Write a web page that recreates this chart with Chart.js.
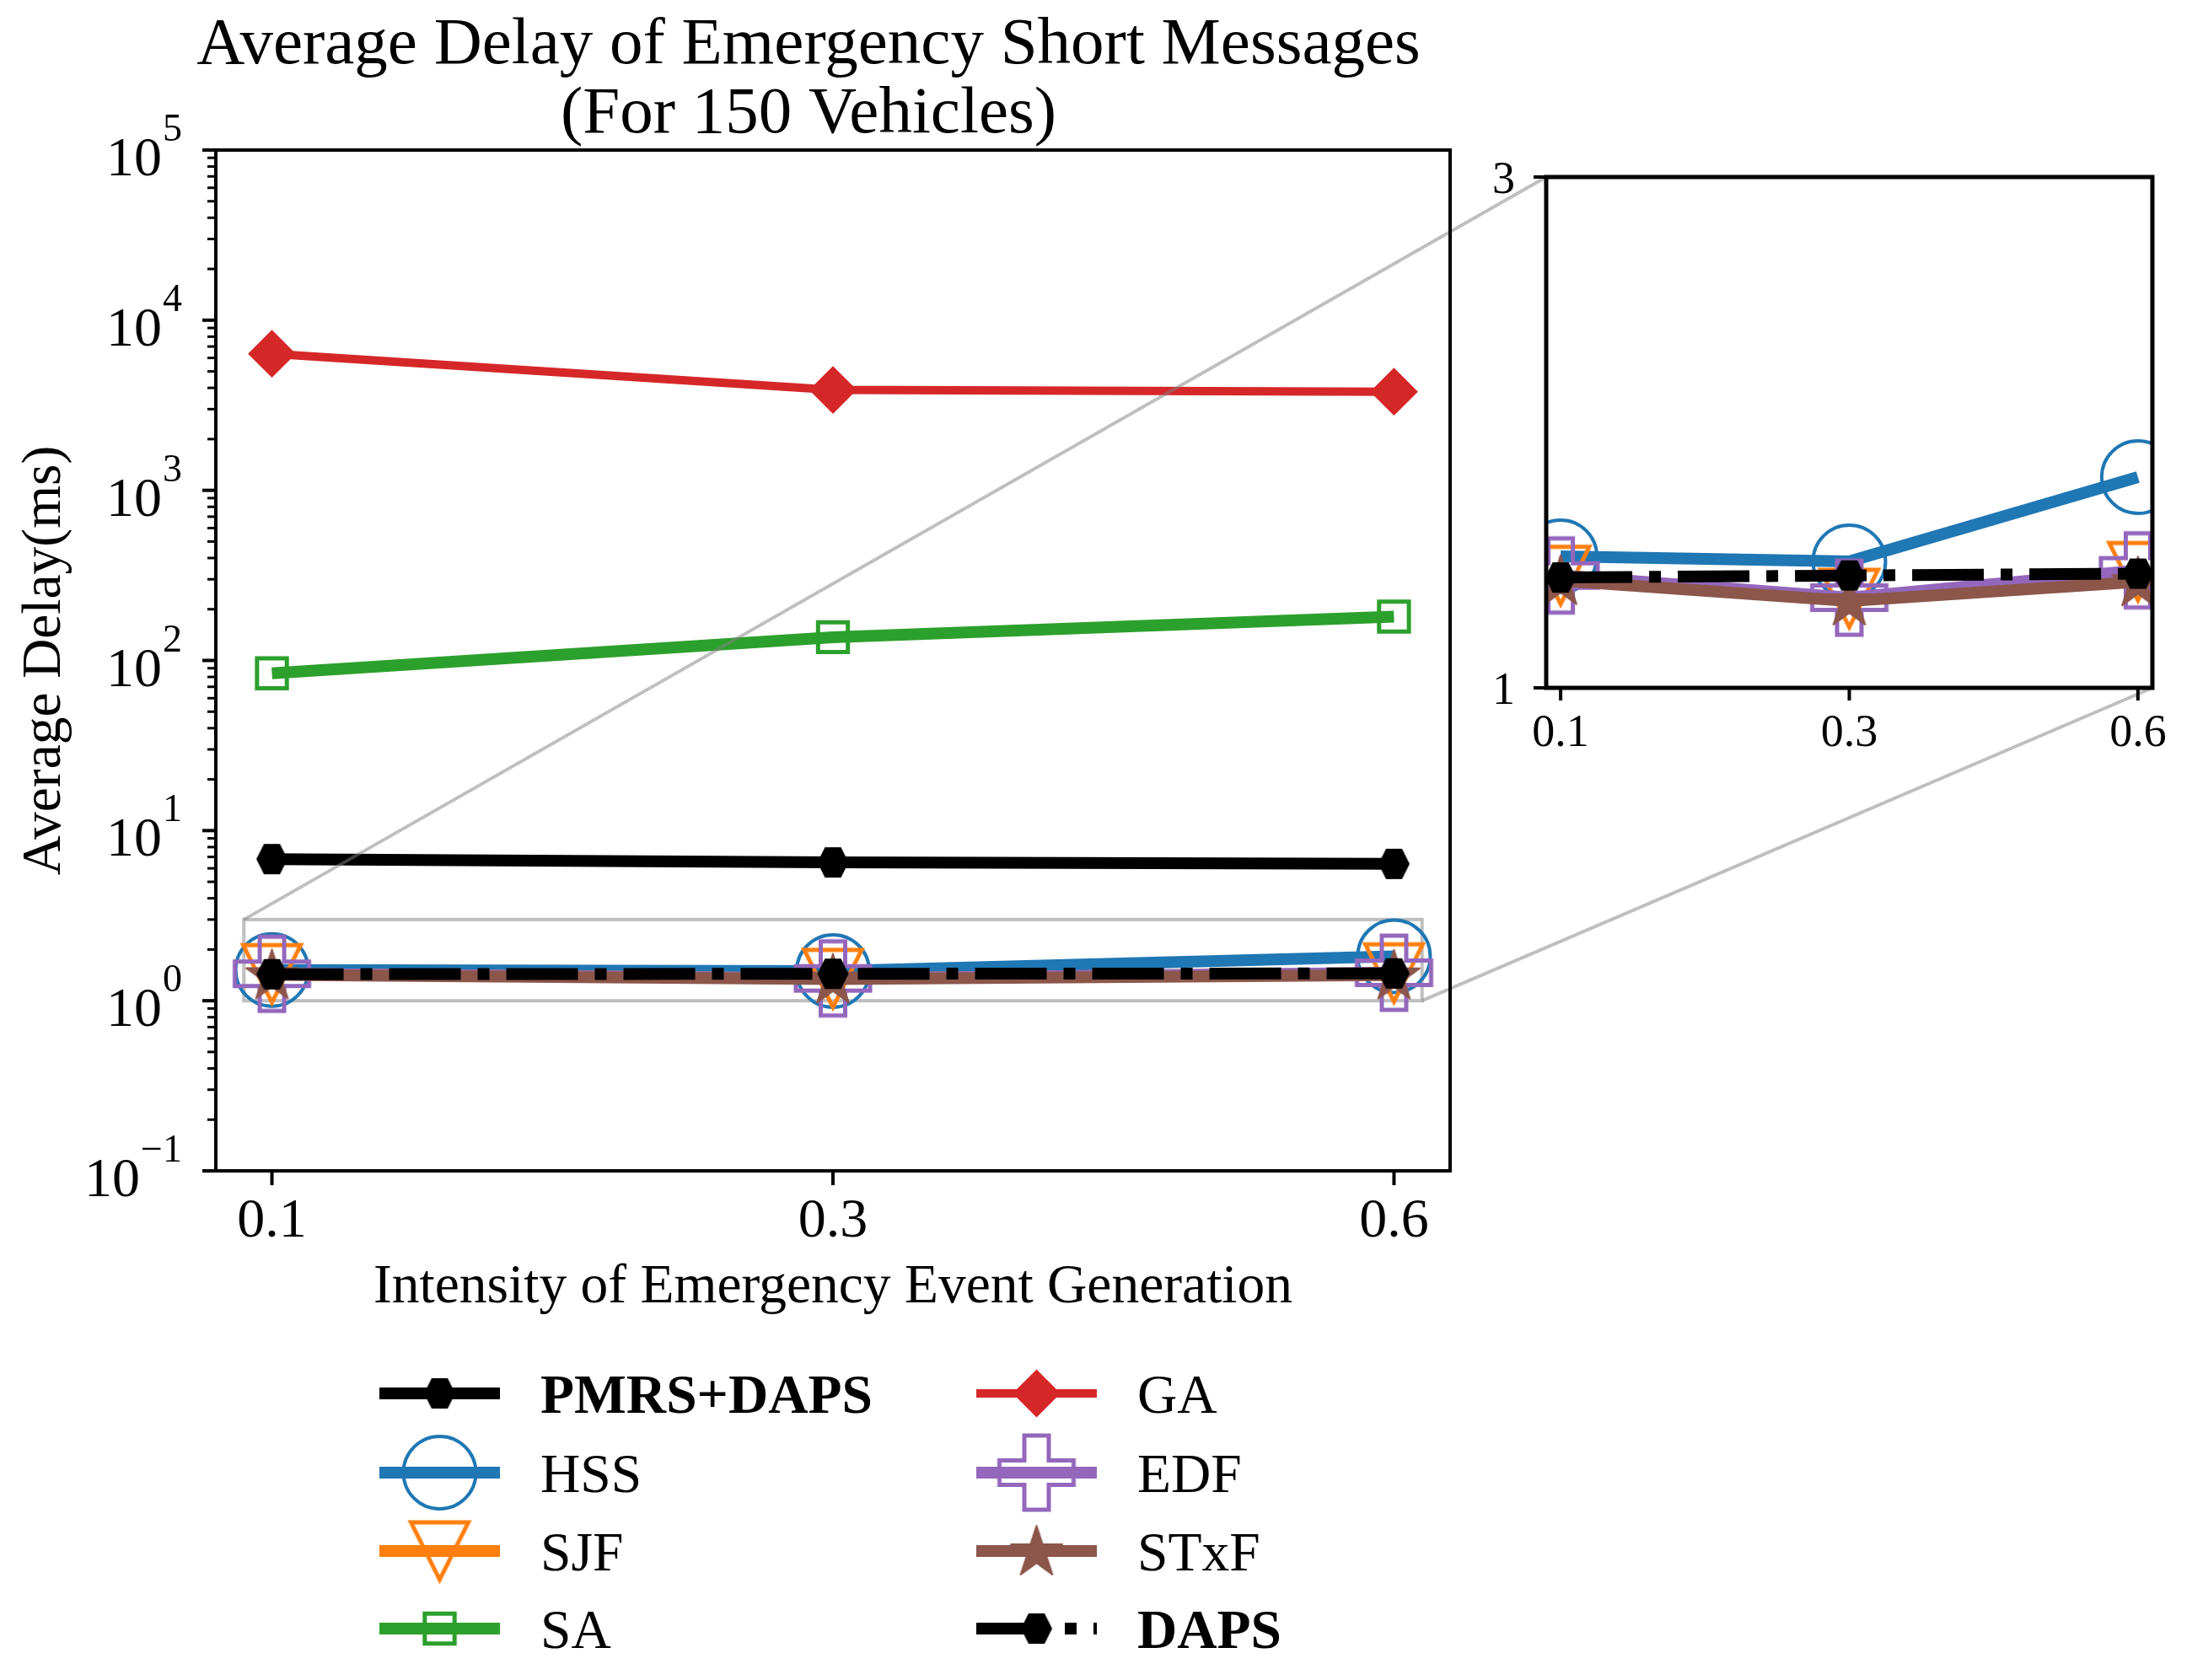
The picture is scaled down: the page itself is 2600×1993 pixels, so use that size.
<!DOCTYPE html>
<html>
<head>
<meta charset="utf-8">
<script src="https://cdn.jsdelivr.net/npm/chart.js@4.4.1/dist/chart.umd.min.js"></script>
<style>
  html, body { margin: 0; padding: 0; background: #fff; }
  #wrap { position: relative; width: 2600px; height: 1993px; overflow: hidden; }
  #main { position: absolute; left: 0; top: 0; }
  #inset { position: absolute; left: 1700px; top: 100px; }
</style>
</head>
<body>
<div id="wrap">
  <canvas id="main" width="2600" height="1993"></canvas>
  <canvas id="inset" width="900" height="850"></canvas>
</div>
<script>
const intensities = ['0.1', '0.3', '0.6']
const pmrsDaps = [6.8, 6.5, 6.37]
const hss = [1.515, 1.495, 1.825]
const sjf = [1.44, 1.35, 1.455]
const sa = [84, 137, 181]
const ga = [6350, 3890, 3800]
const edf = [1.44, 1.353, 1.46]
const stxf = [1.42, 1.34, 1.415]
const daps = [1.432, 1.44, 1.447]
const seriesNames = ['PMRS+DAPS', 'HSS', 'SJF', 'SA', 'GA', 'EDF', 'STxF', 'DAPS']
const seriesValues = [pmrsDaps, hss, sjf, sa, ga, edf, stxf, daps]
const decadeExponents = [-1, 0, 1, 2, 3, 4, 5]
const insetYTicks = [1, 3]

const FONT = "'Liberation Serif', 'Times New Roman', serif"
const GRAY = 'rgba(128, 128, 128, 0.5)'

function markerCanvas(size, paint) {
  const c = document.createElement('canvas')
  c.width = size
  c.height = size
  const g = c.getContext('2d')
  g.translate(size / 2, size / 2)
  paint(g)
  return c
}

const hexMarker = markerCanvas(44, (g) => {
  g.beginPath()
  g.moveTo(-18.5, 0)
  g.lineTo(-9.5, -18)
  g.lineTo(9.5, -18)
  g.lineTo(18.5, 0)
  g.lineTo(9.5, 18)
  g.lineTo(-9.5, 18)
  g.closePath()
  g.fillStyle = '#000000'
  g.fill()
})

const triMarker = markerCanvas(90, (g) => {
  g.beginPath()
  g.moveTo(-34, -34)
  g.lineTo(34, -34)
  g.lineTo(0, 34)
  g.closePath()
  g.lineJoin = 'miter'
  g.lineWidth = 5
  g.strokeStyle = '#ff7f0e'
  g.stroke()
})

const plusMarker = markerCanvas(100, (g) => {
  const a = 14.5
  const l = 44
  g.beginPath()
  g.moveTo(-a, -l)
  g.lineTo(a, -l)
  g.lineTo(a, -a)
  g.lineTo(l, -a)
  g.lineTo(l, a)
  g.lineTo(a, a)
  g.lineTo(a, l)
  g.lineTo(-a, l)
  g.lineTo(-a, a)
  g.lineTo(-l, a)
  g.lineTo(-l, -a)
  g.lineTo(-a, -a)
  g.closePath()
  g.lineJoin = 'miter'
  g.lineWidth = 5
  g.strokeStyle = '#9467bd'
  g.stroke()
})

const starMarker = markerCanvas(80, (g) => {
  const R = 32
  const r = R * 0.381966
  g.beginPath()
  for (let k = 0; k < 10; k++) {
    const rad = k % 2 === 0 ? R : r
    const ang = -Math.PI / 2 + (k * Math.PI) / 5
    g.lineTo(rad * Math.cos(ang), rad * Math.sin(ang) + 2)
  }
  g.closePath()
  g.fillStyle = '#8c564b'
  g.fill()
  g.lineJoin = 'round'
  g.lineWidth = 2
  g.strokeStyle = '#8c564b'
  g.stroke()
})

const seriesStyles = [
  { color: '#000000', width: 14, dash: [], pointStyle: hexMarker, radius: 19, border: 0, bg: '#000000' },
  { color: '#1f77b4', width: 14, dash: [], pointStyle: 'circle', radius: 43, border: 4, bg: 'rgba(0,0,0,0)' },
  { color: '#ff7f0e', width: 14, dash: [], pointStyle: triMarker, radius: 36, border: 0, bg: 'rgba(0,0,0,0)' },
  { color: '#2ca02c', width: 14, dash: [], pointStyle: 'rect', radius: 25, border: 5, bg: 'rgba(0,0,0,0)' },
  { color: '#d62728', width: 10, dash: [], pointStyle: 'rectRot', radius: 27, border: 2, bg: '#d62728' },
  { color: '#9467bd', width: 14, dash: [], pointStyle: plusMarker, radius: 46, border: 0, bg: 'rgba(0,0,0,0)' },
  { color: '#8c564b', width: 14, dash: [], pointStyle: starMarker, radius: 33, border: 0, bg: '#8c564b' },
  { color: '#000000', width: 14, dash: [85, 20, 14, 20], pointStyle: hexMarker, radius: 19, border: 0, bg: '#000000' },
]

function buildDatasets() {
  return seriesNames.map((name, i) => {
    const s = seriesStyles[i]
    return {
      label: name,
      data: seriesValues[i].map((v, j) => ({ x: j, y: v })),
      borderColor: s.color,
      borderWidth: s.width,
      borderDash: s.dash,
      borderCapStyle: 'butt',
      borderJoinStyle: 'round',
      pointStyle: s.pointStyle,
      pointRadius: s.radius,
      pointHoverRadius: s.radius,
      pointBorderWidth: s.border,
      pointHoverBorderWidth: s.border,
      pointBorderColor: s.color,
      pointBackgroundColor: s.bg,
      fill: false,
      tension: 0,
      clip: 0,
      order: seriesNames.length - i,
    }
  })
}

function drawMarker(ctx, s, x, y) {
  ctx.save()
  if (typeof s.pointStyle !== 'string') {
    ctx.drawImage(s.pointStyle, x - s.pointStyle.width / 2, y - s.pointStyle.height / 2)
    ctx.restore()
    return
  }
  ctx.setLineDash([])
  ctx.beginPath()
  if (s.pointStyle === 'circle') {
    ctx.arc(x, y, s.radius, 0, Math.PI * 2)
  } else if (s.pointStyle === 'rect') {
    const h = Math.SQRT1_2 * s.radius
    ctx.rect(x - h, y - h, 2 * h, 2 * h)
  } else {
    ctx.moveTo(x - s.radius, y)
    ctx.lineTo(x, y - s.radius)
    ctx.lineTo(x + s.radius, y)
    ctx.lineTo(x, y + s.radius)
    ctx.closePath()
  }
  ctx.fillStyle = s.bg
  ctx.fill()
  ctx.lineWidth = s.border
  ctx.strokeStyle = s.color
  ctx.stroke()
  ctx.restore()
}

function line(ctx, x1, y1, x2, y2, w, color) {
  ctx.beginPath()
  ctx.moveTo(x1, y1)
  ctx.lineTo(x2, y2)
  ctx.lineWidth = w
  ctx.strokeStyle = color
  ctx.stroke()
}

const insetDecor = {
  id: 'insetDecor',
  beforeDatasetsDraw(chart) {
    const { ctx, chartArea: a } = chart
    ctx.save()
    ctx.fillStyle = '#ffffff'
    ctx.fillRect(a.left, a.top, a.right - a.left, a.bottom - a.top)
    ctx.restore()
  },
  afterDatasetsDraw(chart) {
    const { ctx, chartArea: a } = chart
    const xs = chart.scales.x
    const ys = chart.scales.y
    ctx.save()
    ctx.lineCap = 'butt'
    ctx.lineWidth = 5
    ctx.strokeStyle = '#000000'
    ctx.strokeRect(a.left, a.top, a.right - a.left, a.bottom - a.top)
    ctx.fillStyle = '#000000'
    ctx.font = '54px ' + FONT
    ctx.textAlign = 'center'
    ctx.textBaseline = 'alphabetic'
    intensities.forEach((lab, j) => {
      const px = xs.getPixelForValue(j)
      line(ctx, px, a.bottom, px, a.bottom + 15, 4, '#000000')
      ctx.fillText(lab, px, a.bottom + 69)
    })
    ctx.textAlign = 'right'
    insetYTicks.forEach((v) => {
      const py = ys.getPixelForValue(v)
      line(ctx, a.left - 15, py, a.left, py, 4, '#000000')
      ctx.fillText(String(v), a.left - 37, py + 19)
    })
    ctx.restore()
  },
}

const insetChart = new Chart(document.getElementById('inset'), {
  type: 'line',
  data: { datasets: buildDatasets() },
  options: {
    responsive: false,
    animation: false,
    devicePixelRatio: 1,
    events: [],
    layout: { padding: { left: 134, top: 110, right: 34, bottom: 134 } },
    plugins: { legend: { display: false }, title: { display: false }, tooltip: { enabled: false } },
    scales: {
      x: { type: 'linear', display: false, min: -0.05, max: 2.05 },
      y: { type: 'linear', display: false, min: 1, max: 3 },
    },
  },
  plugins: [insetDecor],
})

const mainDecor = {
  id: 'mainDecor',
  beforeDatasetsDraw(chart) {
    const { ctx } = chart
    const xs = chart.scales.x
    const ys = chart.scales.y
    const bx1 = xs.getPixelForValue(insetChart.scales.x.min)
    const bx2 = xs.getPixelForValue(insetChart.scales.x.max)
    const by1 = ys.getPixelForValue(insetChart.scales.y.max)
    const by2 = ys.getPixelForValue(insetChart.scales.y.min)
    ctx.save()
    ctx.lineWidth = 4
    ctx.strokeStyle = GRAY
    ctx.strokeRect(bx1, by1, bx2 - bx1, by2 - by1)
    ctx.restore()
  },
  afterDatasetsDraw(chart) {
    const { ctx, chartArea: a } = chart
    const xs = chart.scales.x
    const ys = chart.scales.y
    ctx.save()

    // zoom connector lines to the inset corners
    const ia = insetChart.chartArea
    const ic = insetChart.canvas
    const ox = ic.offsetLeft
    const oy = ic.offsetTop
    const bx1 = xs.getPixelForValue(insetChart.scales.x.min)
    const bx2 = xs.getPixelForValue(insetChart.scales.x.max)
    const by1 = ys.getPixelForValue(insetChart.scales.y.max)
    const by2 = ys.getPixelForValue(insetChart.scales.y.min)
    line(ctx, bx1, by1, ox + ia.left, oy + ia.top, 4, GRAY)
    line(ctx, bx2, by2, ox + ia.right, oy + ia.bottom, 4, GRAY)

    ctx.lineCap = 'butt'
    ctx.lineWidth = 4
    ctx.strokeStyle = '#000000'
    ctx.strokeRect(a.left, a.top, a.right - a.left, a.bottom - a.top)

    // y axis: log ticks
    decadeExponents.forEach((e) => {
      const py = ys.getPixelForValue(Math.pow(10, e))
      line(ctx, a.left - 16, py, a.left, py, 4, '#000000')
      if (e < decadeExponents[decadeExponents.length - 1]) {
        for (let m = 2; m <= 9; m++) {
          const my = ys.getPixelForValue(m * Math.pow(10, e))
          line(ctx, a.left - 10, my, a.left, my, 3, '#000000')
        }
      }
      const exp = e < 0 ? '\u2212' + Math.abs(e) : String(e)
      ctx.fillStyle = '#000000'
      ctx.textAlign = 'right'
      ctx.textBaseline = 'alphabetic'
      ctx.font = '46px ' + FONT
      const ew = ctx.measureText(exp).width
      ctx.fillText(exp, 216, py - 11)
      ctx.font = '66px ' + FONT
      ctx.fillText('10', 216 - ew - 1, py + 30)
    })

    // x axis ticks
    ctx.font = '66px ' + FONT
    ctx.textAlign = 'center'
    intensities.forEach((lab, j) => {
      const px = xs.getPixelForValue(j)
      line(ctx, px, a.bottom, px, a.bottom + 17, 4, '#000000')
      ctx.fillText(lab, px, a.bottom + 78)
    })

    // axis titles
    ctx.font = '65.5px ' + FONT
    ctx.fillText('Intensity of Emergency Event Generation', (a.left + a.right) / 2, 1545)
    ctx.save()
    ctx.translate(71, (a.top + a.bottom) / 2)
    ctx.rotate(-Math.PI / 2)
    ctx.fillText('Average Delay(ms)', 0, 0)
    ctx.restore()

    // title
    ctx.font = '79px ' + FONT
    ctx.fillText('Average Delay of Emergency Short Messages', 959, 75)
    ctx.fillText('(For 150 Vehicles)', 959, 157)

    // legend, two columns
    const rowY = [1653, 1747, 1840, 1932]
    const colX = [[450, 593, 641], [1158, 1301, 1349]]
    seriesNames.forEach((name, i) => {
      const s = seriesStyles[i]
      const c = colX[Math.floor(i / 4)]
      const y = rowY[i % 4]
      ctx.save()
      ctx.setLineDash(s.dash)
      line(ctx, c[0], y, c[1], y, s.width, s.color)
      ctx.restore()
      drawMarker(ctx, s, (c[0] + c[1]) / 2, y)
      const bold = name === 'PMRS+DAPS' || name === 'DAPS'
      ctx.font = (bold ? 'bold ' : '') + '65.5px ' + FONT
      ctx.textAlign = 'left'
      ctx.fillStyle = '#000000'
      ctx.fillText(name, c[2], y + 23)
    })
    ctx.restore()
  },
}

const mainChart = new Chart(document.getElementById('main'), {
  type: 'line',
  data: { datasets: buildDatasets() },
  options: {
    responsive: false,
    animation: false,
    devicePixelRatio: 1,
    events: [],
    layout: { padding: { left: 256, top: 178, right: 880, bottom: 604 } },
    plugins: { legend: { display: false }, title: { display: false }, tooltip: { enabled: false } },
    scales: {
      x: { type: 'linear', display: false, min: -0.1, max: 2.1 },
      y: { type: 'logarithmic', display: false, min: 0.1, max: 100000 },
    },
  },
  plugins: [mainDecor],
})
</script>
</body>
</html>
